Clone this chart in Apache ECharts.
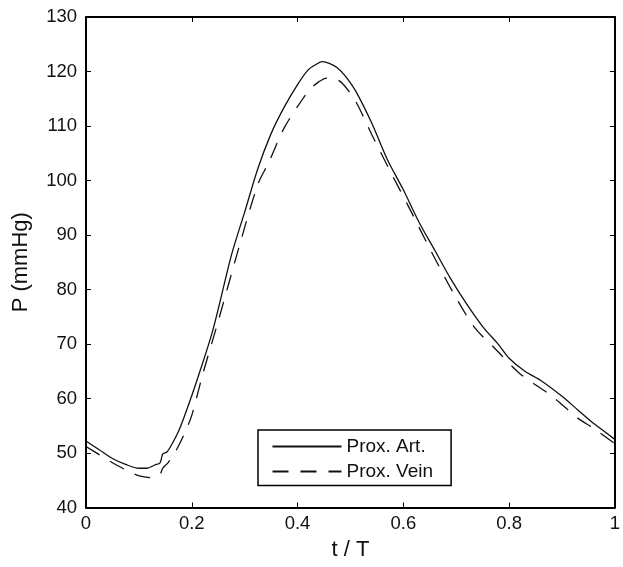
<!DOCTYPE html>
<html>
<head>
<meta charset="utf-8">
<script src="https://cdn.jsdelivr.net/npm/echarts@6/dist/echarts.min.js"></script>
<style>
html,body{margin:0;padding:0;background:#fff;}
#chart{width:623px;height:567px;}
</style>
</head>
<body>
<div id="chart"></div>
<script>
// Proximal artery pressure (solid): [t/T, P mmHg]
const artT = [0, 0.025, 0.05, 0.075, 0.1, 0.115, 0.13, 0.14, 0.145, 0.153, 0.16, 0.175, 0.19, 0.21, 0.24, 0.275, 0.3, 0.325, 0.35, 0.375, 0.4, 0.42, 0.435, 0.447, 0.46, 0.475, 0.49, 0.51, 0.54, 0.57, 0.6, 0.63, 0.66, 0.69, 0.72, 0.75, 0.78, 0.8, 0.83, 0.86, 0.9, 0.93, 0.96, 1.0];
const artP = [52.2, 50.6, 49.0, 47.9, 47.2, 47.2, 47.8, 48.2, 49.8, 50.2, 51.2, 54.0, 57.8, 63.4, 72.6, 86.3, 94.2, 102.2, 108.6, 113.5, 117.6, 120.3, 121.3, 121.8, 121.5, 120.7, 119.2, 116.4, 110.6, 103.8, 98.3, 92.3, 87.1, 81.9, 77.3, 73.2, 69.9, 67.4, 65.0, 63.3, 60.4, 57.9, 55.4, 52.5];
// Proximal vein pressure (dashed)
const veinT = [0, 0.025, 0.05, 0.075, 0.09, 0.105, 0.12, 0.135, 0.14, 0.145, 0.155, 0.17, 0.185, 0.2, 0.22, 0.25, 0.29, 0.325, 0.345, 0.375, 0.41, 0.425, 0.44, 0.455, 0.47, 0.485, 0.51, 0.54, 0.58, 0.61, 0.65, 0.695, 0.735, 0.775, 0.82, 0.88, 0.93, 0.96, 1.0];
const veinP = [51.2, 49.7, 48.2, 46.9, 46.2, 45.7, 45.5, 45.9, 46.0, 47.2, 48.2, 50.4, 53.3, 56.9, 64.2, 74.2, 88.0, 99.3, 103.2, 109.7, 115.0, 116.9, 118.1, 118.8, 118.7, 117.8, 114.5, 108.5, 100.8, 95.2, 87.5, 79.3, 73.0, 69.0, 64.6, 60.5, 56.4, 54.5, 51.7];
const seriesNames = ['Prox. Art.', 'Prox. Vein'];
const xLabel = 't / T';
const yLabel = 'P (mmHg)';

const FONT = 'Liberation Sans, Arial, Helvetica, sans-serif';
const artData = artT.map((t, i) => [t, artP[i]]);
const veinData = veinT.map((t, i) => [t, veinP[i]]);

const chart = echarts.init(document.getElementById('chart'), null, {renderer: 'canvas'});
const axisLine = {show: true, onZero: false, lineStyle: {color: '#000', width: 2}};
const tick = {show: true, inside: true, length: 5, lineStyle: {color: '#000', width: 1}};
chart.setOption({
  animation: false,
  backgroundColor: '#fff',
  grid: {left: 86, right: 4, top: 17, bottom: 59.5, containLabel: false},
  legend: {
    orient: 'vertical',
    left: 258, top: 430,
    padding: [6.5, 18, 4, 13.5],
    itemGap: 5,
    itemWidth: 69, itemHeight: 14,
    backgroundColor: '#fff',
    borderColor: '#000', borderWidth: 1.5,
    textStyle: {fontFamily: FONT, fontSize: 19, lineHeight: 20, color: '#111'},
    itemStyle: {opacity: 0},
    data: seriesNames,
    selectedMode: false
  },
  xAxis: [{
    type: 'value', min: 0, max: 1, interval: 0.2, position: 'bottom',
    name: xLabel, nameLocation: 'middle', nameGap: 31,
    nameTextStyle: {fontFamily: FONT, fontSize: 22, color: '#111'},
    axisLine: axisLine, axisTick: tick,
    axisLabel: {fontFamily: FONT, fontSize: 18.5, color: '#111', margin: 7},
    splitLine: {show: false}
  }, {
    type: 'value', min: 0, max: 1, interval: 0.2, position: 'top',
    axisLine: axisLine, axisTick: tick, axisLabel: {show: false}, splitLine: {show: false}
  }],
  yAxis: [{
    type: 'value', min: 40, max: 130, interval: 10, position: 'left',
    name: yLabel, nameLocation: 'middle', nameGap: 54,
    nameTextStyle: {fontFamily: FONT, fontSize: 22, color: '#111'},
    axisLine: axisLine, axisTick: tick,
    axisLabel: {fontFamily: FONT, fontSize: 18.5, color: '#111', margin: 9},
    splitLine: {show: false}
  }, {
    type: 'value', min: 40, max: 130, interval: 10, position: 'right',
    axisLine: axisLine, axisTick: tick, axisLabel: {show: false}, splitLine: {show: false}
  }],
  series: [{
    name: seriesNames[0], type: 'line', data: artData,
    showSymbol: false, symbol: 'none', smooth: 0.3,
    lineStyle: {color: '#111', width: 1.3, type: 'solid'},
    itemStyle: {color: '#111'}
  }, {
    name: seriesNames[1], type: 'line', data: veinData,
    showSymbol: false, symbol: 'none', smooth: 0.3,
    lineStyle: {color: '#111', width: 1.3, type: [16, 12]},
    itemStyle: {color: '#111'}
  }]
});
</script>
</body>
</html>
